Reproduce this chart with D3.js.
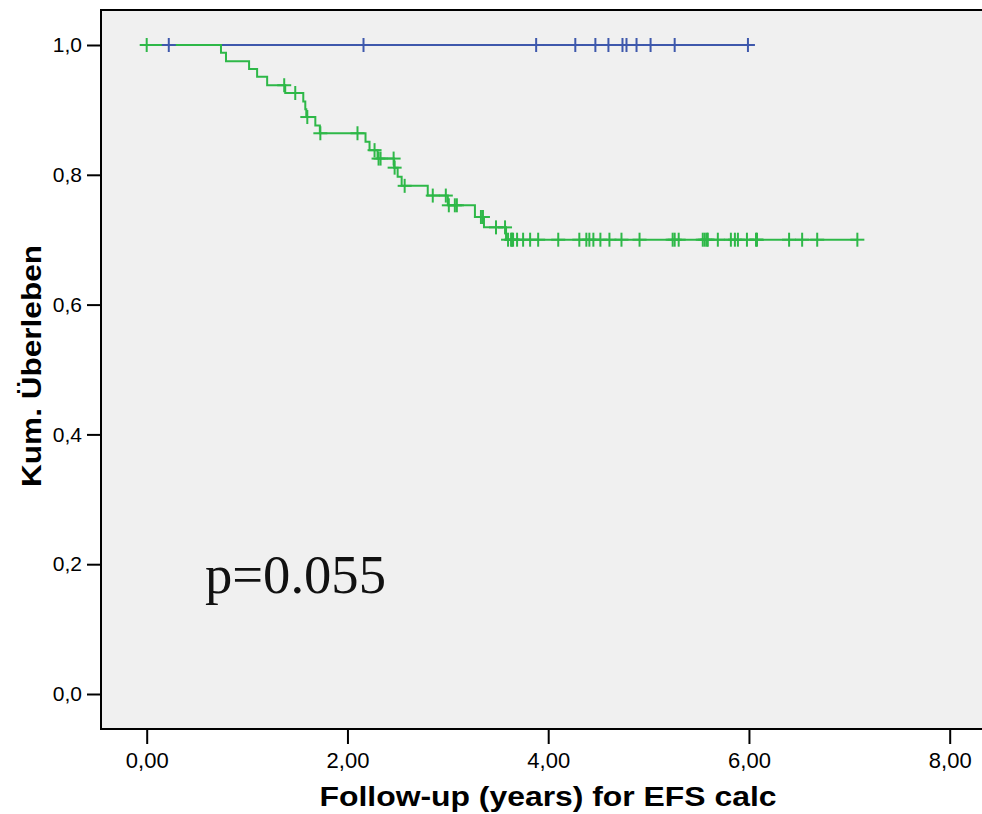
<!DOCTYPE html>
<html>
<head>
<meta charset="utf-8">
<script src="https://cdn.jsdelivr.net/npm/d3@7"></script>
<style>
  body { margin: 0; background: #fff; }
  svg { display: block; }
  .tick text { font-family: "Liberation Sans", Arial, sans-serif; font-size: 21px; fill: #000; }
  .xaxis .tick text { font-size: 22px; }
  .tick line { stroke: #000; stroke-width: 2px; }
</style>
</head>
<body>
<svg width="982" height="814"></svg>
<script>
// group 1 (blue): no events, only censored cases
var blueCensor = [0.22, 2.16, 3.88, 4.27, 4.47, 4.60, 4.74, 4.78, 4.88, 5.02, 5.26, 5.99];

// group 2 (green): event times and survival after each step
var greenTimes = [0.74, 0.79, 1.02, 1.10, 1.20, 1.38, 1.56, 1.58, 1.59, 1.68, 1.725,
                  2.18, 2.22, 2.30, 2.465, 2.50, 2.54, 2.80, 3.00, 3.27, 3.36, 3.58];
var greenSurv  = [0.988, 0.975, 0.963, 0.951, 0.938, 0.926, 0.913, 0.901, 0.889, 0.876, 0.864,
                  0.851, 0.838, 0.825, 0.811, 0.797, 0.783, 0.768, 0.753, 0.735, 0.719, 0.700];
var greenCensor = [0, 1.37, 1.48, 1.60, 1.73, 2.10, 2.27, 2.31, 2.33, 2.46, 2.47, 2.57,
                   2.85, 2.98, 3.01, 3.07, 3.09, 3.33, 3.35, 3.48, 3.57,
                   3.60, 3.63, 3.64, 3.65, 3.69, 3.75, 3.82, 3.90, 4.10, 4.31, 4.38, 4.41,
                   4.45, 4.52, 4.61, 4.73, 4.91, 5.24, 5.26, 5.30, 5.54, 5.56, 5.58, 5.59,
                   5.69, 5.82, 5.86, 5.89, 5.98, 6.07, 6.08, 6.40, 6.53, 6.68, 7.08];

var xTicks = [0, 2, 4, 6, 8];
var yTicks = [0, 0.2, 0.4, 0.6, 0.8, 1.0];

var blueColor = "#3e58ac", greenColor = "#2eb848";

var svg = d3.select("svg");

var x = d3.scaleLinear().domain([0, 8]).range([146.7, 949.7]);
var y = d3.scaleLinear().domain([0, 1]).range([694, 45]);

var de = d3.formatLocale({decimal: ",", thousands: ".", grouping: [3], currency: ["", "€"]});

// panel
svg.append("rect")
  .attr("x", 101).attr("y", 10)
  .attr("width", 920).attr("height", 719)
  .attr("fill", "#f0f0f0")
  .attr("stroke", "#000").attr("stroke-width", 2);

var yAxis = svg.append("g")
  .attr("transform", "translate(101,0)")
  .call(d3.axisLeft(y).tickValues(yTicks).tickSize(14).tickPadding(5).tickFormat(de.format(".1f")));
yAxis.select(".domain").remove();

var xAxis = svg.append("g")
  .attr("class", "xaxis")
  .attr("transform", "translate(0,730)")
  .call(d3.axisBottom(x).tickValues(xTicks).tickSize(14).tickPadding(8).tickFormat(de.format(".2f")));
xAxis.select(".domain").remove();

function survAt(times, surv, t) {
  var s = 1;
  for (var i = 0; i < times.length; i++) {
    if (times[i] <= t) s = surv[i];
  }
  return s;
}

var line = d3.line()
  .x(function(d) { return x(d.t); })
  .y(function(d) { return y(d.s); })
  .curve(d3.curveStepAfter);

var bluePts = [{t: 0, s: 1}, {t: d3.max(blueCensor), s: 1}];
var greenPts = [{t: 0, s: 1}];
greenTimes.forEach(function(t, i) { greenPts.push({t: t, s: greenSurv[i]}); });
greenPts.push({t: d3.max(greenCensor), s: greenSurv[greenSurv.length - 1]});

svg.append("path").datum(bluePts)
  .attr("d", line).attr("fill", "none")
  .attr("stroke", blueColor).attr("stroke-width", 2);

svg.append("path").datum(greenPts)
  .attr("d", line).attr("fill", "none")
  .attr("stroke", greenColor).attr("stroke-width", 2);

function drawCensor(list, times, surv, color) {
  var g = svg.append("g").attr("stroke", color).attr("stroke-width", 2);
  list.forEach(function(t) {
    var cx = x(t), cy = y(survAt(times, surv, t));
    g.append("line").attr("x1", cx - 7).attr("x2", cx + 7).attr("y1", cy).attr("y2", cy);
    g.append("line").attr("x1", cx).attr("x2", cx).attr("y1", cy - 7).attr("y2", cy + 7);
  });
}
drawCensor(greenCensor, greenTimes, greenSurv, greenColor);
drawCensor(blueCensor, [], [], blueColor);

// p value
svg.append("text")
  .attr("x", 205).attr("y", 593)
  .attr("font-family", "'Liberation Serif', 'Times New Roman', serif")
  .attr("font-size", 54)
  .attr("fill", "#111")
  .attr("textLength", 181).attr("lengthAdjust", "spacingAndGlyphs")
  .text("p=0.055");

// axis titles
svg.append("text")
  .attr("x", 548).attr("y", 806)
  .attr("text-anchor", "middle")
  .attr("font-family", "'Liberation Sans', Arial, sans-serif")
  .attr("font-weight", "bold").attr("font-size", 28)
  .attr("textLength", 457).attr("lengthAdjust", "spacingAndGlyphs")
  .text("Follow-up (years) for EFS calc");

svg.append("text")
  .attr("transform", "translate(41,366) rotate(-90)")
  .attr("text-anchor", "middle")
  .attr("font-family", "'Liberation Sans', Arial, sans-serif")
  .attr("font-weight", "bold").attr("font-size", 28)
  .attr("textLength", 242).attr("lengthAdjust", "spacingAndGlyphs")
  .text("Kum. Überleben");
</script>
</body>
</html>
